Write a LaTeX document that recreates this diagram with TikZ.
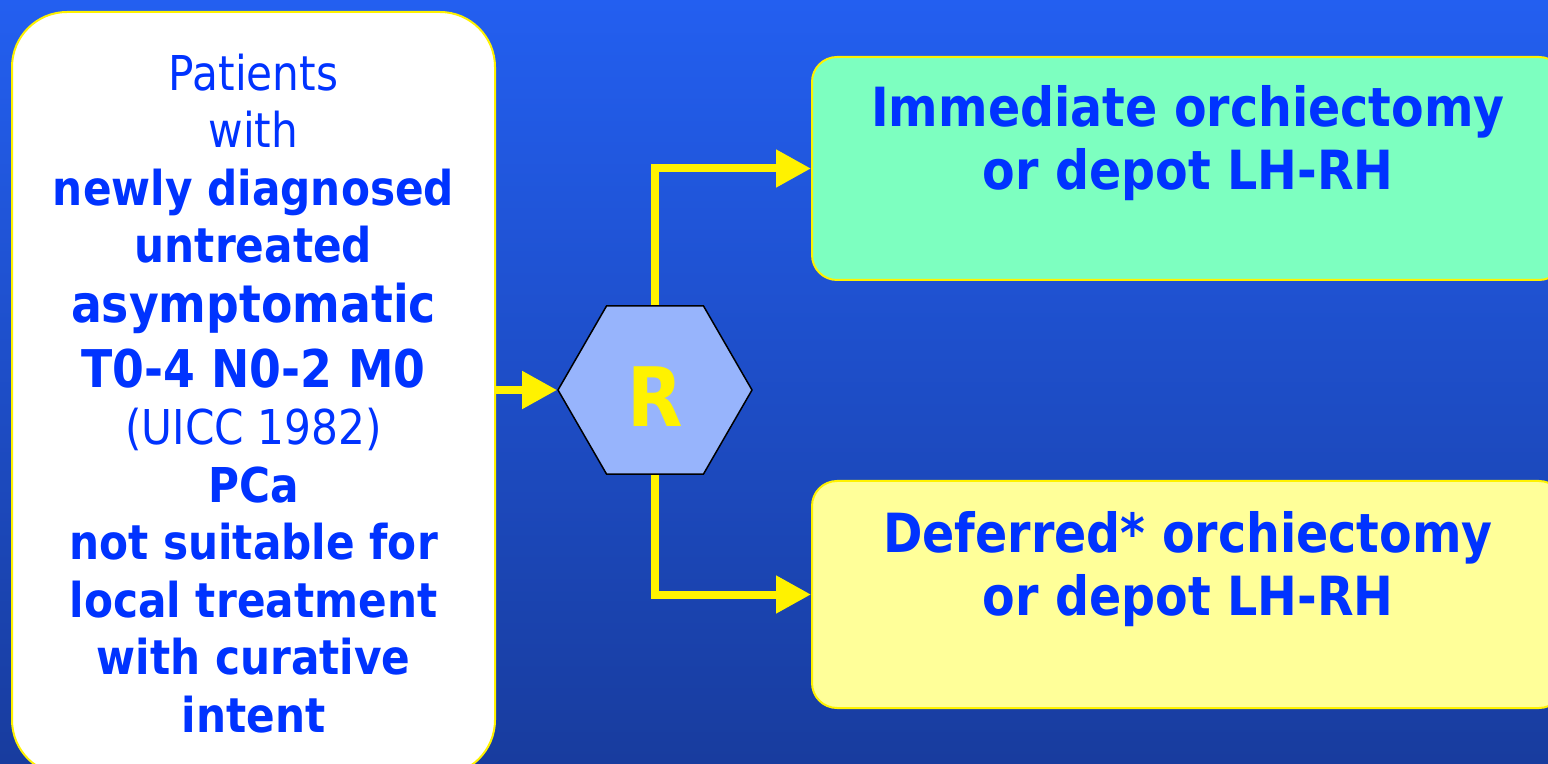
\documentclass[tikz,border=0pt]{standalone}
\usepackage{fontspec}
\setmainfont[FakeStretch=0.88]{DejaVu Sans}
\usetikzlibrary{arrows.meta,shapes.geometric,positioning}
\definecolor{bgtop}{RGB}{35,95,240}
\definecolor{bgbot}{RGB}{24,60,158}
\definecolor{txtblue}{RGB}{0,51,255}
\definecolor{hexblue}{RGB}{151,180,252}
\definecolor{mint}{RGB}{125,255,192}
\definecolor{paleyellow}{RGB}{255,255,153}
\tikzset{
  flow/.style={draw=yellow, line width=4pt, -{Triangle[length=17.5pt,width=18pt]}},
  armbox/.style={draw=yellow, line width=1pt, rounded corners=12.5pt,
    minimum width=376pt, text=txtblue, align=center,
    font=\fontsize{27}{31.5}\selectfont\bfseries},
}
\begin{document}
\begin{tikzpicture}[x=0.5pt,y=-0.5pt]
  \useasboundingbox (0,0) rectangle (1548,764);
  \clip (0,0) rectangle (1548,764);
  \shade[top color=bgtop, bottom color=bgbot] (0,0) rectangle (1548,764);
  % patients
  \node[draw=yellow, line width=1pt, fill=white, rounded corners=27.5pt,
        minimum width=241.5pt, minimum height=381.5pt, text=txtblue, align=center,
        font=\fontsize{24}{28.75}\selectfont] (patients) at (253.5,393.5)
    {Patients\\with\\\textbf{newly diagnosed}\\\textbf{untreated}\\[1.25pt]
     {\fontsize{26}{28.75}\selectfont\textbf{asymptomatic}}\\[3.5pt]
     {\fontsize{26}{28.75}\selectfont\textbf{T0-4 N0-2 M0}}\\
     (UICC 1982)\\\textbf{PCa}\\\textbf{not suitable for}\\
     \textbf{local treatment}\\\textbf{with curative}\\\textbf{intent}};
  % randomisation
  \node[regular polygon, regular polygon sides=6, minimum size=97pt, inner sep=0pt,
        draw=black, line width=0.75pt, fill=hexblue, text=yellow, text height=37pt,
        font=\fontsize{41}{41}\selectfont\bfseries] (hex) at (655,390) {R};
  % arms
  \node[armbox, fill=mint, minimum height=111.5pt] (imm) at (1188,168.5)
    {Immediate orchiectomy\\or depot LH-RH\\\mbox{}};
  \node[armbox, fill=paleyellow, minimum height=113.5pt] (def) at (1188,594.5)
    {Deferred* orchiectomy\\or depot LH-RH\\\mbox{}};
  \draw[flow] (hex.west -| patients.east) -- (hex.west);
  \draw[flow] (hex.north) |- (imm.west);
  \draw[flow] (hex.south) |- (def.west);
\end{tikzpicture}
\end{document}
